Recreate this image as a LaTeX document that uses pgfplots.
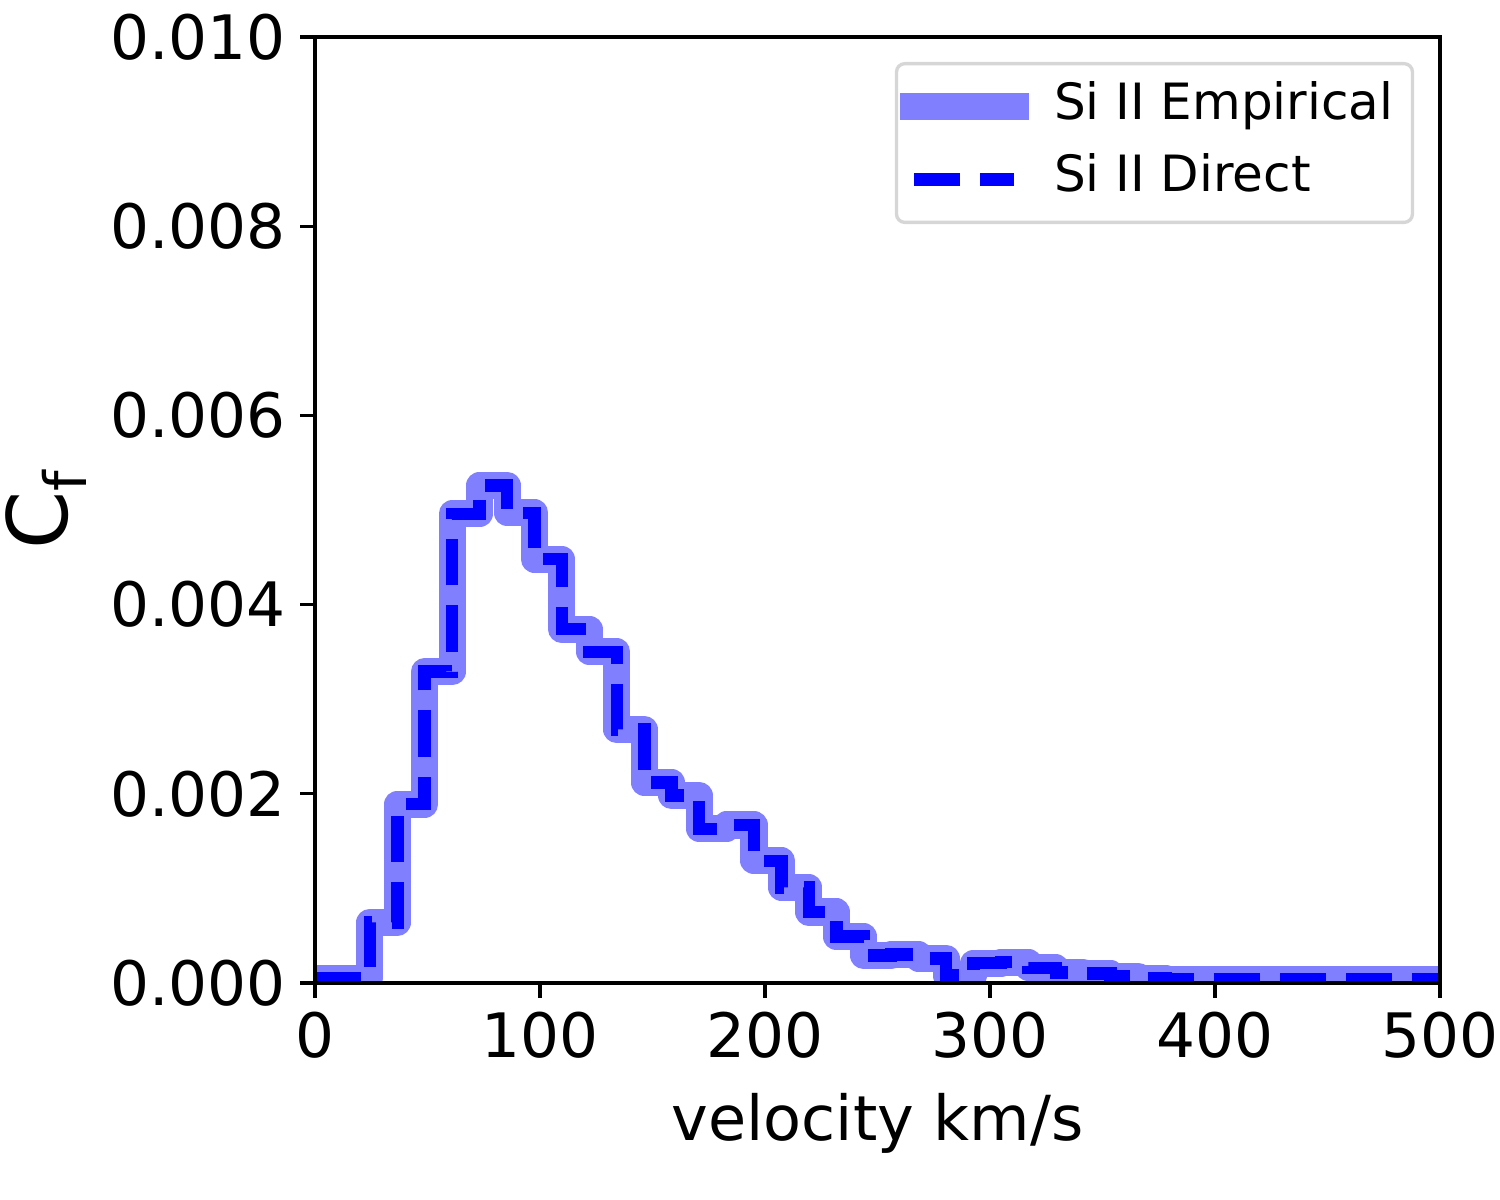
\documentclass[border=0pt]{standalone}
\usepackage{fontspec}
\setmainfont{DejaVu Sans}
\usepackage{pgfplots}
\pgfplotsset{compat=1.18}
\usepackage{pgfplotstable}
\definecolor{emp}{RGB}{128,128,255}
\definecolor{dir}{RGB}{0,0,255}
\definecolor{lgray}{RGB}{214,214,214}

\pgfplotsset{
  empimg/.style={legend image code/.code={\draw[##1, line cap=butt] (0pt,0pt) -- (31pt,0pt);}},
  dirimg/.style={legend image code/.code={\pgfpathmoveto{\pgfpoint{-3.25pt}{0pt}}\pgfpathlineto{\pgfpoint{34.25pt}{0pt}}\pgfusepath{discard}\draw[##1, line cap=butt] (3.4pt,0pt) -- (27.4pt,0pt);}},
}

\pgfplotstableread{
x y
0.000 0.00005
12.195 0.00005
24.390 0.00064
36.585 0.00189
48.780 0.00329
60.976 0.00496
73.171 0.00526
85.366 0.00497
97.561 0.00448
109.756 0.00374
121.951 0.00350
134.146 0.00268
146.341 0.00212
158.537 0.00198
170.732 0.00163
182.927 0.00167
195.122 0.00129
207.317 0.00101
219.512 0.00075
231.707 0.00049
243.902 0.00029
256.098 0.00030
268.293 0.00026
280.488 0.00008
292.683 0.00021
304.878 0.00022
317.073 0.00016
329.268 0.00011
341.463 0.00010
353.659 0.00007
365.854 0.00005
378.049 0.00004
390.244 0.00004
402.439 0.00004
414.634 0.00004
426.829 0.00004
439.024 0.00004
451.220 0.00004
463.415 0.00004
475.610 0.00004
487.805 0.00004
500.000 0.00004
}\datatable

\begin{document}
\begin{tikzpicture}
\useasboundingbox (-75.6pt,-52.08pt) rectangle (284.4pt,235.92pt);
\begin{axis}[
  at={(0,0)}, anchor=south west,
  scale only axis, width=270pt, height=227.04pt,
  xmin=0, xmax=500, ymin=0, ymax=0.010,
  xtick={0,100,200,300,400,500},
  ytick={0,0.002,0.004,0.006,0.008,0.010},
  scaled y ticks=false,
  tick align=outside, tick pos=left,
  major tick length=3.5pt,
  every tick/.style={black, line width=0.8pt},
  axis line style={line width=0.8pt},
  axis on top,
  xticklabel={\pgfmathprintnumber[assume math mode=true]{\tick}},
  yticklabel={\pgfmathprintnumber[fixed,fixed zerofill,precision=3,assume math mode=true]{\tick}},
  tick label style={font=\fontsize{14.7pt}{17pt}\selectfont},
  xlabel={velocity km/s},
  xlabel style={at={(axis description cs:0.5,-0.166)}, anchor=base, font=\fontsize{14.9pt}{17pt}\selectfont},
  ylabel={C\raisebox{-0.22em}{\fontsize{14pt}{16pt}\selectfont f}},
  ylabel style={at={(axis description cs:-0.239,0.5)}, anchor=center, font=\fontsize{20pt}{24pt}\selectfont},
  legend cell align=left,
  legend style={at={(1,1)}, anchor=north east, xshift=-6.2pt, yshift=-6pt,
    draw=lgray, line width=0.8pt, rounded corners=2pt,
    font=\fontsize{12pt}{14pt}\selectfont,
    inner xsep=-2.4pt, inner ysep=4.3pt, row sep=5.5pt, column sep=2.7pt,
    nodes={inner sep=0pt, text height=9pt, text depth=3pt}},
]
\addplot[const plot, emp, line width=6.5pt, line join=round, empimg]
  table {\datatable};
\addlegendentry{Si II Empirical\rule{7pt}{0pt}}
\addplot[const plot, dir, line width=3pt, dash pattern=on 11.1pt off 4.8pt, dirimg]
  table {\datatable};
\addlegendentry{Si II Direct}
\end{axis}
\end{tikzpicture}
\end{document}
